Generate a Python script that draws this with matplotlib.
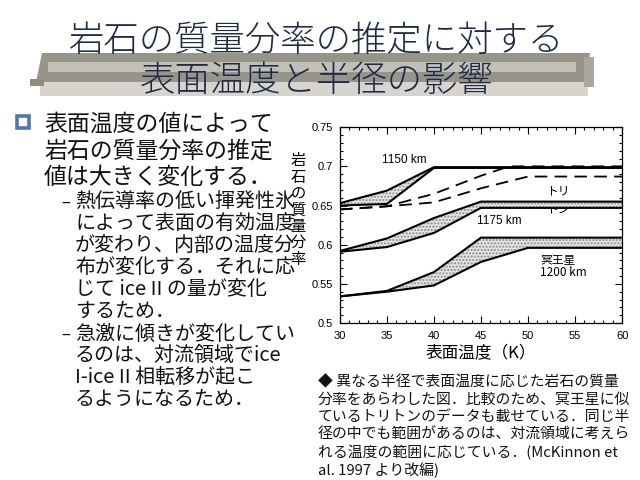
import matplotlib.pyplot as plt
from matplotlib.patches import Rectangle, Polygon
from matplotlib.ticker import MultipleLocator

# chart data
t_1150 = [30, 35, 40, 60]
hi_1150 = [0.653, 0.669, 0.699, 0.699]
lo_1150 = [0.650, 0.652, 0.698, 0.698]

t_1175 = [30, 35, 40, 45, 60]
hi_1175 = [0.592, 0.608, 0.634, 0.655, 0.655]
lo_1175 = [0.591, 0.597, 0.615, 0.647, 0.647]

t_1200 = [30, 35, 40, 45, 50, 60]
hi_1200 = [0.534, 0.541, 0.565, 0.609, 0.609, 0.609]
lo_1200 = [0.534, 0.540, 0.548, 0.578, 0.596, 0.596]

t_triton_hi = [30, 35, 40, 45, 48, 60]
triton_hi = [0.645, 0.649, 0.665, 0.688, 0.700, 0.700]
t_triton_lo = [30, 35, 40, 45, 50, 60]
triton_lo = [0.645, 0.649, 0.654, 0.672, 0.687, 0.687]

title_lines = ['岩石の質量分率の推定に対する', '表面温度と半径の影響']
main_lines = ['表面温度の値によって', '岩石の質量分率の推定', '値は大きく変化する．']
sub1_lines = ['熱伝導率の低い揮発性氷', 'によって表面の有効温度', 'が変わり、内部の温度分',
              '布が変化する．それに応', 'じて ice II の量が変化', 'するため．']
sub2_lines = ['急激に傾きが変化してい', 'るのは、対流領域でice', 'I-ice II 相転移が起こ',
              'るようになるため．']
caption_lines = ['◆ 異なる半径で表面温度に応じた岩石の質量', '分率をあらわした図．比較のため、冥王星に似',
                 'ているトリトンのデータも載せている．同じ半',
                 '径の中でも範囲があるのは、対流領域に考えら',
                 'れる温度の範囲に応じている．(McKinnon et', 'al. 1997 より改編)']

jp = ['Noto Sans CJK JP', 'DejaVu Sans']

fig = plt.figure(figsize=(6.4, 4.8), dpi=100)

# slide layer in pixel coordinates
bg = fig.add_axes([0, 0, 1, 1], zorder=0)
bg.set_xlim(0, 640)
bg.set_ylim(480, 0)
bg.axis('off')

# title banner
bg.add_patch(Rectangle((40, 82), 548, 14, color='#d6d4cc', lw=0))
bg.add_patch(Polygon([(36, 82), (42, 53), (590, 53), (586, 82)], closed=True, color='#97958a', lw=0))
bg.add_patch(Rectangle((48, 62), 528, 10, color='#c2c0b6', lw=0))
bg.add_patch(Rectangle((30, 79), 14, 7, color='#8f8d7d', lw=0))
bg.add_patch(Rectangle((584, 57), 10, 30, color='#aaa89c', lw=0))
for i, line in enumerate(title_lines):
    bg.text(317, 41 + 40 * i, line, fontsize=25.5, family=jp, fontweight='light',
            color='#1e2b48', ha='center', va='center')

# bullet square
bg.add_patch(Rectangle((17, 116), 12, 12, facecolor='white', edgecolor='#4a78b5', lw=2.6))
for i, line in enumerate(main_lines):
    bg.text(44, 124 + 27 * i, line, fontsize=16.5, family=jp, color='#111111', va='center')

bg.text(61, 202, '–', fontsize=12, family=jp, color='#111111', va='center')
for i, line in enumerate(sub1_lines):
    bg.text(75, 202 + 21.8 * i, line, fontsize=14.4, family=jp, color='#111111', va='center')
bg.text(61, 334, '–', fontsize=12, family=jp, color='#111111', va='center')
for i, line in enumerate(sub2_lines):
    bg.text(75, 334 + 21.8 * i, line, fontsize=14.4, family=jp, color='#111111', va='center')

for i, line in enumerate(caption_lines):
    bg.text(318, 382 + 17.6 * i, line, fontsize=10.7, family=jp, color='#111111', va='center')

# chart
ax = fig.add_axes([0.531, 0.327, 0.441, 0.408], zorder=2)

ax.text(36.9, 0.708, '1150 km', fontsize=8.5, family='Liberation Sans', ha='center', va='center', zorder=1)
ax.text(53.2, 0.668, 'トリ', fontsize=8.5, family=jp, ha='center', va='center', zorder=1)
ax.text(53.2, 0.645, 'トン', fontsize=8.5, family=jp, ha='center', va='center', zorder=1)
ax.text(47.0, 0.630, '1175 km', fontsize=8.5, family='Liberation Sans', ha='center', va='center')
ax.text(51.3, 0.572, '冥王星\n1200 km', fontsize=8.5, family=jp, ha='left', va='center',
        linespacing=0.85)

for t, hi, lo in [(t_1150, hi_1150, lo_1150), (t_1175, hi_1175, lo_1175), (t_1200, hi_1200, lo_1200)]:
    ax.fill_between(t, lo, hi, facecolor='#e4e4e4', edgecolor='#8a8a8a', hatch='.....', lw=0, zorder=2)
    ax.plot(t, hi, color='black', lw=1.5, zorder=3)
    ax.plot(t, lo, color='black', lw=1.5, zorder=3)

ax.plot(t_triton_hi, triton_hi, color='black', lw=1.3, linestyle=(0, (7, 4)), zorder=3)
ax.plot(t_triton_lo, triton_lo, color='black', lw=1.3, linestyle=(0, (7, 4)), zorder=3)

ax.set_xlim(30, 60)
ax.set_ylim(0.5, 0.75)
ax.xaxis.set_minor_locator(MultipleLocator(1))
ax.yaxis.set_minor_locator(MultipleLocator(0.01))
ax.set_xticks([30, 35, 40, 45, 50, 55, 60])
ax.set_xticklabels(['30', '35', '40', '45', '50', '55', '60'], family='Liberation Sans', fontsize=8)
ax.set_yticks([0.5, 0.55, 0.6, 0.65, 0.7, 0.75])
ax.set_yticklabels(['0.5', '0.55', '0.6', '0.65', '0.7', '0.75'], family='Liberation Sans', fontsize=8)
ax.tick_params(which='both', direction='in', top=True, right=True, width=0.8)
ax.tick_params(which='major', length=5)
ax.tick_params(axis='x', which='major', pad=6)
ax.tick_params(axis='y', which='major', pad=5)
ax.tick_params(which='minor', length=2.5)
for s in ax.spines.values():
    s.set_linewidth(0.9)

ax.set_xlabel('表面温度（K）', family=jp, fontsize=12, labelpad=3)
ax.text(-0.149, 0.577, '\n'.join('岩石の質量分率'), transform=ax.transAxes, family=jp,
        fontsize=11, ha='center', va='center', linespacing=0.95)

fig.savefig('out.png', dpi=100)
